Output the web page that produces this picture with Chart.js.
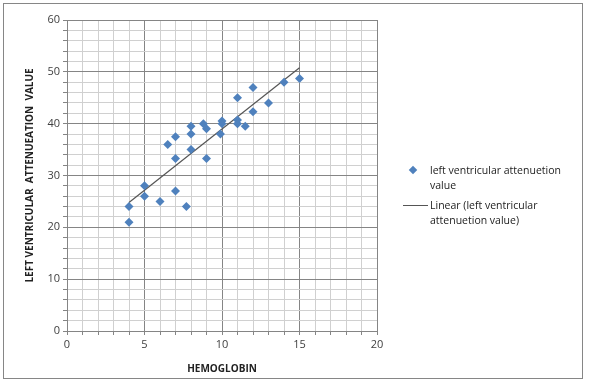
<!DOCTYPE html>
<html>
<head>
<meta charset="utf-8">
<script src="https://cdn.jsdelivr.net/npm/chart.js@4"></script>
<style>
  body { margin: 0; background: #fff; }
  #wrap { position: relative; width: 589px; height: 382px; }
  #frame { position: absolute; left: 3px; top: 3px; width: 580px; height: 376px; border: 1px solid #868686; box-sizing: border-box; }
  canvas { position: absolute; left: 0; top: 0; }
  #legend { position: absolute; left: 400px; top: 163px; font-family: "Open Sans", "Liberation Sans", sans-serif; font-size: 10.5px; color: #222; line-height: 15px; }
  .item { position: relative; padding-left: 30px; margin-bottom: 5px; }
  .diamond { position: absolute; left: 10px; top: 4px; width: 6px; height: 6px; background: #4f81bd; transform: rotate(45deg); }
  .line { position: absolute; left: 3px; top: 7px; width: 25px; height: 1px; background: #555; }
</style>
</head>
<body>
<div id="wrap">
  <div id="frame"></div>
  <canvas id="scatterChart" width="589" height="382"></canvas>
  <div id="legend">
    <div class="item"><span class="diamond"></span>left ventricular attenuetion<br>value</div>
    <div class="item"><span class="line"></span>Linear (left ventricular<br>attenuetion value)</div>
  </div>
</div>
<script>
// hemoglobin vs left ventricular attenuation value
const hemoglobin = [4, 4, 5, 5, 6, 6.5, 7, 7, 7, 7.7, 8, 8, 8, 8.8, 9, 9, 9.9, 10, 10, 11, 11, 11, 11.5, 12, 12, 13, 14, 15];
const lvValue = [24, 21, 28, 26, 25, 36, 37.5, 33.3, 27, 24, 39.5, 38, 35, 40, 39, 33.3, 38, 40.5, 40, 45, 40.7, 40, 39.5, 47, 42.3, 44, 48, 48.7];

// trendline end points
const trendX = [4, 15];
const trendY = [24.8, 50.8];

const xTicks = [0, 5, 10, 15, 20];
const yTicks = [0, 10, 20, 30, 40, 50, 60];

const ctx = document.getElementById('scatterChart').getContext('2d');
const chart = new Chart(ctx, {
    type: 'scatter',
    data: {
        datasets: [{
            label: 'left ventricular attenuetion value',
            data: hemoglobin.map((x, i) => ({ x: x, y: lvValue[i] })),
            pointStyle: 'rectRot',
            pointRadius: 4.5,
            backgroundColor: '#4f81bd',
            borderColor: '#4f81bd',
            borderWidth: 0
        }, {
            label: 'Linear (left ventricular attenuetion value)',
            type: 'line',
            data: trendX.map((x, i) => ({ x: x, y: trendY[i] })),
            borderColor: '#555555',
            borderWidth: 1.2,
            pointRadius: 0,
            fill: false
        }]
    },
    options: {
        responsive: false,
        animation: false,
        layout: { padding: { left: 20, top: 20, right: 212, bottom: 3 } },
        plugins: {
            legend: { display: false },
            tooltip: { enabled: false }
        },
        scales: {
            x: {
                type: 'linear',
                min: 0,
                max: 20,
                afterFit: s => { s.height = 48; },
                ticks: {
                    stepSize: 1,
                    autoSkip: false,
                    maxRotation: 0,
                    color: '#404040',
                    font: { family: 'Open Sans', size: 11 },
                    callback: v => xTicks.includes(v) ? v : ''
                },
                grid: {
                    color: c => c.tick && c.tick.value % 5 === 0 ? '#858585' : '#d0d0d0',
                    tickLength: 4,
                    tickColor: '#858585'
                },
                border: { color: '#858585' },
                title: {
                    display: true,
                    text: 'HEMOGLOBIN',
                    color: '#222',
                    font: { family: 'Open Sans', size: 10, weight: 'bold' },
                    padding: { top: 5 }
                }
            },
            y: {
                min: 0,
                max: 60,
                afterFit: s => { s.width = 47; },
                ticks: {
                    stepSize: 2,
                    autoSkip: false,
                    color: '#404040',
                    font: { family: 'Open Sans', size: 11 },
                    callback: v => yTicks.includes(v) ? v : ''
                },
                grid: {
                    color: c => c.tick && c.tick.value % 10 === 0 ? '#858585' : '#d0d0d0',
                    tickLength: 4,
                    tickColor: '#858585'
                },
                border: { color: '#858585' },
                title: {
                    display: true,
                    text: 'LEFT VENTRICULAR  ATTENUEATION  VALUE',
                    color: '#222',
                    font: { family: 'Open Sans', size: 10, weight: 'bold' },
                    padding: { bottom: 4 }
                }
            }
        }
    }
});
</script>
</body>
</html>
